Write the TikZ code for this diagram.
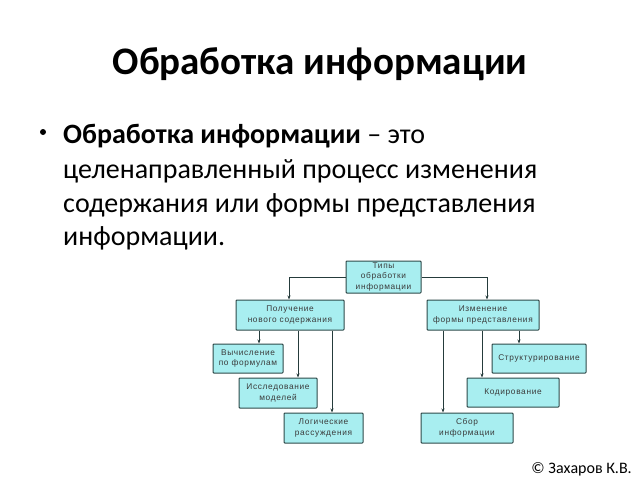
\documentclass[tikz,border=0pt]{standalone}
\usepackage{fontspec}
\setmainfont{Carlito}
\newfontfamily\boxfont[LetterSpace=8]{Liberation Sans}
\usetikzlibrary{arrows.meta}
\definecolor{boxfill}{HTML}{A8EEF0}
\definecolor{boxline}{HTML}{2E4A4A}
\definecolor{boxtext}{HTML}{3A3A3A}
\tikzset{
  tbox/.style={draw=boxline, line width=1pt, fill=boxfill, rounded corners=0.8pt,
    align=center, inner sep=0pt, text=boxtext,
    font=\boxfont\fontsize{8.3}{10.4}\selectfont},
  arr/.style={draw=boxline!80!black, line width=0.6pt, -{Stealth[length=4pt,width=3pt]}},
  bodyline/.style={anchor=base west, inner sep=0pt, font=\fontsize{28}{33.8}\selectfont},
}
\begin{document}
\begin{tikzpicture}[x=1pt,y=-1pt]
\useasboundingbox (0,0) rectangle (640,480);
\fill[white] (0,0) rectangle (640,480);
% title
\node[anchor=base, font=\bfseries\fontsize{39}{44}\selectfont] (title) at (320,74) {Обработка информации};
% bullet text
\node[bodyline] (l1) at (63,143) {\textbf{Обработка информации} – это};
\node[bodyline] (l2) at (63,178) {целенаправленный процесс изменения};
\node[bodyline] (l3) at (63,212) {содержания или формы представления};
\node[bodyline] (l4) at (63,245) {информации.};
\node[circle, fill=black, inner sep=0pt, minimum size=6pt] (bul) at (43,132) {};
% boxes
\node[tbox, minimum width=75pt, minimum height=32pt] (top) at (383.5,277) {Типы\\обработки\\информации};
\node[tbox, minimum width=108pt, minimum height=30pt] (pol) at (290,315) {Получение\\нового содержания};
\node[tbox, minimum width=70pt, minimum height=29pt] (vych) at (248,358.5) {Вычисление\\по формулам};
\node[tbox, minimum width=78pt, minimum height=30pt] (issl) at (278,393) {Исследование\\моделей};
\node[tbox, minimum width=79pt, minimum height=30pt] (log) at (323.5,428) {Логические\\рассуждения};
\node[tbox, minimum width=112pt, minimum height=30pt] (izm) at (483,315) {Изменение\\формы представления};
\node[tbox, minimum width=94pt, minimum height=29pt] (str) at (539,358.5) {Структурирование};
\node[tbox, minimum width=92pt, minimum height=29pt] (kod) at (513,392.5) {Кодирование};
\node[tbox, minimum width=92pt, minimum height=30pt] (sbor) at (467,428) {Сбор\\информации};
% x positions of vertical connectors
\coordinate (xa) at (289,0);
\coordinate (xb) at (487,0);
\coordinate (x1) at (259,0);
\coordinate (x2) at (298,0);
\coordinate (x3) at (332,0);
\coordinate (x4) at (443,0);
\coordinate (x5) at (482,0);
\coordinate (x6) at (519,0);
% connectors
\draw[arr] (top.west) -| (pol.north -| xa);
\draw[arr] (top.east) -| (izm.north -| xb);
\draw[arr] (pol.south -| x1) -- (vych.north -| x1);
\draw[arr] (pol.south -| x2) -- (issl.north -| x2);
\draw[arr] (pol.south -| x3) -- (log.north -| x3);
\draw[arr] (izm.south -| x4) -- (sbor.north -| x4);
\draw[arr] (izm.south -| x5) -- (kod.north -| x5);
\draw[arr] (izm.south -| x6) -- (str.north -| x6);
% copyright
\node[anchor=base east, font=\fontsize{16}{18}\selectfont, inner sep=0pt] (copy) at (632,473) {© Захаров К.В.};
\end{tikzpicture}
\end{document}
